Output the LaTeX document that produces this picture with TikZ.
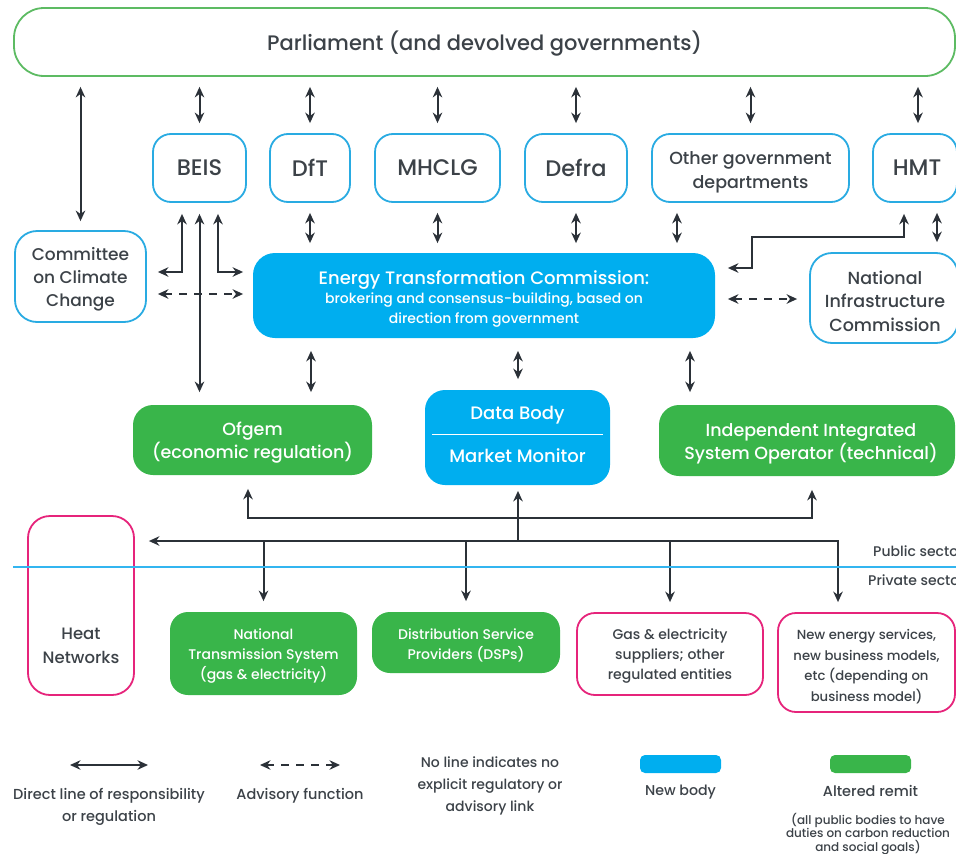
\documentclass[tikz,border=0pt]{standalone}
\usepackage{fontspec}
\IfFontExistsTF{Poppins Medium}{\setmainfont{Poppins Medium}}{\setmainfont{Poppins}}
\usetikzlibrary{arrows.meta,calc}
\definecolor{lineC}{HTML}{2B3138}
\definecolor{txt}{HTML}{3C4248}
\definecolor{bluB}{HTML}{29ABE2}
\definecolor{bluF}{HTML}{00AEEF}
\definecolor{grnF}{HTML}{39B54A}
\definecolor{grnB}{HTML}{5DBB63}
\definecolor{pinkB}{HTML}{E6247B}
\definecolor{secL}{HTML}{33B5F0}
\newcommand{\fs}[2]{\fontsize{#1}{#2}\selectfont}
\begin{document}
\begin{tikzpicture}[x=1pt,y=-1pt,
  box/.style={rounded corners=#1, line width=1.8pt, inner sep=0pt},
  bbox/.style={box=#1, draw=bluB, fill=white},
  pbox/.style={box=#1, draw=pinkB, fill=white},
  gbox/.style={box=#1, fill=grnF},
  nbox/.style={box=#1, fill=bluF},
  tx/.style={text=txt, align=center, inner sep=0pt},
  wx/.style={text=white, align=center, inner sep=0pt},
  tip/.tip={Stealth[length=10.5pt,width=9.5pt]},
  arr/.style={draw=lineC, line width=2pt, tip-tip},
  arrone/.style={draw=lineC, line width=2pt, -tip},
  adv/.style={draw=lineC, line width=2pt, tip-tip, dash pattern=on 8pt off 7pt}
]
\useasboundingbox (0,0) rectangle (956,854);
\clip (0,0) rectangle (956,854);

% ---------- boxes ----------
\node[box=30, draw=grnB, fill=white, minimum width=941, minimum height=68] (parl) at (484.5,42) {};
\node[bbox=18, minimum width=93, minimum height=68] (beis) at (199.5,168) {};
\node[bbox=18, minimum width=80, minimum height=68] (dft) at (310,168) {};
\node[bbox=18, minimum width=125, minimum height=68] (mhclg) at (437.5,168) {};
\node[bbox=18, minimum width=102, minimum height=68] (defra) at (576,168) {};
\node[bbox=18, minimum width=197, minimum height=68] (ogd) at (750.5,168) {};
\node[bbox=18, minimum width=84, minimum height=68] (hmt) at (915,168) {};
\node[bbox=22, minimum width=131, minimum height=91] (ccc) at (80.5,276.5) {};
\node[nbox=22, minimum width=462, minimum height=85] (etc) at (484,295.5) {};
\node[bbox=22, minimum width=148, minimum height=90] (nic) at (884,298) {};
\node[gbox=20, minimum width=239, minimum height=70] (ofgem) at (252.5,440) {};
\node[nbox=20, minimum width=185, minimum height=95] (db) at (517.5,437.5) {};
\node[gbox=20, minimum width=296, minimum height=71] (iiso) at (807,440.5) {};
\node[pbox=22, minimum width=106, minimum height=179] (hn) at (81,605.5) {};
\node[gbox=18, minimum width=187, minimum height=83] (nts) at (263.5,653.5) {};
\node[gbox=18, minimum width=188, minimum height=61] (dsp) at (466,642.5) {};
\node[pbox=18, minimum width=186, minimum height=82] (gas) at (670,654) {};
\node[pbox=18, minimum width=177, minimum height=99] (nes) at (866.5,662.5) {};

% ---------- texts ----------
\node[tx, font=\fs{21}{25}] (parlT) at ($(parl)+(0,2)$) {Parliament (and devolved governments)};
\node[tx, font=\fs{22.5}{25}] (beisT) at (beis) {BEIS};
\node[tx, font=\fs{22.5}{25}] (dftT) at (dft) {DfT};
\node[tx, font=\fs{22.5}{25}] (mhclgT) at (mhclg) {MHCLG};
\node[tx, font=\fs{22.5}{25}] (defraT) at (defra) {Defra};
\node[tx, font=\fs{17.5}{23.5}] (ogdT) at ($(ogd)+(0,4.5)$) {Other government\\departments};
\node[tx, font=\fs{22.5}{25}] (hmtT) at ($(hmt)+(2,0)$) {HMT};
\node[tx, font=\fs{17}{23}] (cccT) at ($(ccc)+(0,3)$) {Committee\\on Climate\\Change};
\node[wx, font=\fs{14}{20.5}] (etcT) at ($(etc)+(0,3.5)$) {{\fs{18}{21}Energy Transformation Commission:}\\[-1.5pt]brokering and consensus-building, based on\\direction from government};
\node[tx, font=\fs{17.5}{23.5}] (nicT) at ($(nic)+(1,3)$) {National\\Infrastructure\\Commission};
\node[wx, font=\fs{17.5}{23}] (ofgemT) at ($(ofgem)+(0,3)$) {Ofgem\\(economic regulation)};
\node[wx, font=\fs{18}{20}] (dbT) at (517.5,415) {Data Body};
\node[wx, font=\fs{18}{20}] (dbM) at (517.5,456) {Market Monitor};
\draw[white, line width=1pt] (db.west |- 0,434) ++(8,0) coordinate (dbl) -- ($(db.east |- 0,434)+(-8,0)$) coordinate (dbr);
\node[wx, font=\fs{17.5}{23}] (iisoT) at ($(iiso)+(4,3)$) {Independent Integrated\\System Operator (technical)};
\node[tx, font=\fs{16.5}{24}] (hnT) at ($(hn)+(0,40)$) {Heat\\Networks};
\node[wx, font=\fs{14}{20}] (ntsT) at ($(nts)+(0,3)$) {National\\Transmission System\\(gas \& electricity)};
\node[wx, font=\fs{14}{20}] (dspT) at ($(dsp)+(0,3)$) {Distribution Service\\Providers (DSPs)};
\node[tx, font=\fs{14}{20}] (gasT) at ($(gas)+(0,2)$) {Gas \& electricity\\suppliers; other\\regulated entities};
\node[tx, font=\fs{13.2}{20.5}] (nesT) at ($(nes)+(0,4)$) {New energy services,\\new business models,\\etc (depending on\\business model)};

% ---------- helper coordinates ----------
\coordinate (hA) at (904,0);
\coordinate (hB) at (752,237);
\coordinate (hC) at (0,268);
\coordinate (hx) at (918,0);
\coordinate (ox) at (677,0);
\coordinate (nx) at (937,0);
\coordinate (bL) at (182,272);
\coordinate (bR) at (218,272);
\coordinate (dA) at (0,294);
\coordinate (dB) at (0,299);
\coordinate (e1) at (311,0);
\coordinate (e2) at (518,0);
\coordinate (e3) at (690,0);
\coordinate (u1) at (248,0);
\coordinate (u2) at (812,518);
\coordinate (lowBus) at (838,541);
\coordinate (mid) at (518,541);

% ---------- Parliament links ----------
\draw[arr, shorten <=10pt, shorten >=9pt] (parl.south -| ccc.north) -- (ccc.north);
\foreach \n in {beis,dft,mhclg,defra,ogd}{
  \draw[arr, shorten <=10pt, shorten >=10pt] (parl.south -| \n.north) -- (\n.north);
}
\draw[arr, shorten <=10pt, shorten >=10pt] (parl.south -| hx) -- (hmt.north -| hx);

% ---------- Departments to ETC ----------
\foreach \n in {dft,mhclg,defra}{
  \draw[arr, shorten <=10pt, shorten >=9pt] (\n.south) -- (etc.north -| \n.south);
}
\draw[arr, shorten <=10pt, shorten >=9pt] (ogd.south -| ox) -- (etc.north -| ox);
\draw[arr, shorten <=10pt, shorten >=10pt] (hmt.south -| nx) -- (nic.north -| nx);
\draw[arr, shorten <=11pt, shorten >=12pt] (hmt.south -| hA) |- (hB) |- (etc.east |- hC);

% ---------- BEIS links ----------
\draw[arr, shorten <=11pt, shorten >=11pt] (beis.south -| bL) |- (ccc.east |- bL);
\draw[arr, shorten <=11pt, shorten >=9pt] (beis.south -| bR) |- (etc.west |- bR);
\draw[arr, shorten <=11pt, shorten >=12pt] (beis.south) -- (ofgem.north -| beis.south);
\draw[adv, shorten <=11pt, shorten >=9pt] (ccc.east |- dA) -- (etc.west |- dA);
\draw[adv, shorten <=12pt, shorten >=12pt] (etc.east |- dB) -- (nic.west |- dB);

% ---------- ETC to bodies ----------
\draw[arr, shorten <=12pt, shorten >=12pt] (etc.south -| e1) -- (ofgem.north -| e1);
\draw[arr, shorten <=12pt, shorten >=10pt] (etc.south -| e2) -- (db.north -| e2);
\draw[arr, shorten <=12pt, shorten >=12pt] (etc.south -| e3) -- (iiso.north -| e3);

% ---------- lower network ----------
\draw[arr, shorten <=13pt, shorten >=13pt] (ofgem.south -| u1) |- (u2) -- (iiso.south -| u2);
\draw[arrone, shorten >=5pt] (mid) -- (db.south -| mid);
\draw[arr, shorten <=14pt, shorten >=10pt] (hn.east |- lowBus) -- (lowBus) -- (nes.north -| lowBus);
\foreach \n in {nts,dsp,gas}{
  \draw[arrone, shorten >=10pt] (\n.north |- lowBus) -- (\n.north);
}

% ---------- public / private ----------
\draw[secL, line width=1.4pt] (13,567) coordinate (sl) -- (956,567) coordinate (sr);
\node[tx, anchor=west, font=\fs{14}{15}] (pub) at (873,551) {Public sector};
\node[tx, anchor=west, font=\fs{14}{15}] (priv) at (868,580) {Private sector};

% ---------- legend ----------
\coordinate (la1) at (70,765);
\coordinate (la2) at (148,765);
\coordinate (lb1) at (260,765);
\coordinate (lb2) at (340,765);
\draw[arr] (la1) -- (la2);
\draw[adv] (lb1) -- (lb2);
\node[tx, font=\fs{14.5}{22}] (l1) at (109,807) {Direct line of responsibility\\or regulation};
\node[tx, font=\fs{14.5}{22}] (l2) at (300,796) {Advisory function};
\node[tx, font=\fs{14}{22}] (l3) at (490,786) {No line indicates no\\explicit regulatory or\\advisory link};
\node[box=5, fill=bluF, minimum width=81, minimum height=18] (sw1) at (680.5,764) {};
\node[tx, font=\fs{14.2}{15}] (l4) at (680.5,792) {New body};
\node[box=5, fill=grnF, minimum width=81, minimum height=18] (sw2) at (870.5,764) {};
\node[tx, font=\fs{14.5}{15}] (l5) at (870.5,791) {Altered remit};
\node[tx, font=\fs{12}{13.5}] (l6) at (868,834) {(all public bodies to have\\duties on carbon reduction\\and social goals)};
\end{tikzpicture}
\end{document}
